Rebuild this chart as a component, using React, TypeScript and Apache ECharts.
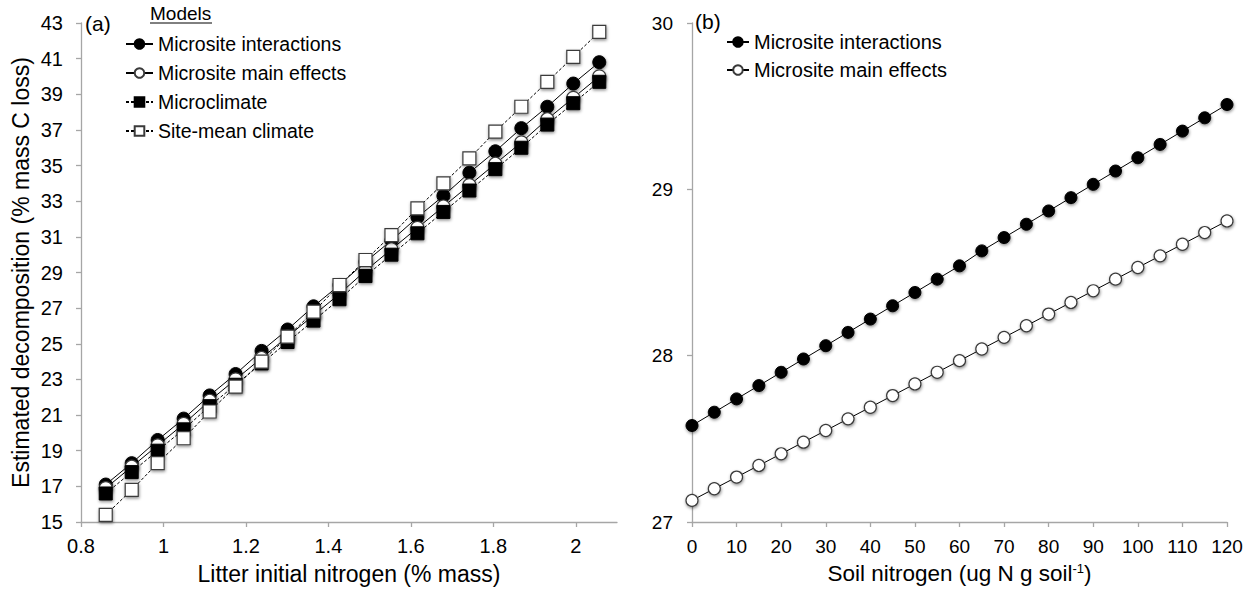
import React, { useEffect, useRef } from "react";
import * as echarts from "echarts";

const litterN = [0.86, 0.923, 0.986, 1.049, 1.112, 1.175, 1.238, 1.301, 1.364, 1.427, 1.49, 1.553, 1.616, 1.679, 1.742, 1.805, 1.868, 1.931, 1.994, 2.057];
const aInteractions = [17.1, 18.3, 19.6, 20.8, 22.1, 23.3, 24.6, 25.8, 27.1, 28.3, 29.6, 30.8, 32.1, 33.3, 34.6, 35.8, 37.1, 38.3, 39.6, 40.8];
const aMainEffects = [16.9, 18.1, 19.3, 20.5, 21.8, 23.0, 24.2, 25.4, 26.6, 27.8, 29.1, 30.3, 31.5, 32.7, 33.9, 35.1, 36.3, 37.6, 38.8, 40.0];
const aMicroclimate = [16.6, 17.8, 19.0, 20.2, 21.5, 22.7, 23.9, 25.1, 26.3, 27.5, 28.8, 30.0, 31.2, 32.4, 33.6, 34.8, 36.0, 37.3, 38.5, 39.7];
const aSiteMean = [15.4, 16.8, 18.3, 19.7, 21.2, 22.6, 24.0, 25.4, 26.8, 28.3, 29.7, 31.1, 32.6, 34.0, 35.4, 36.9, 38.3, 39.7, 41.1, 42.5];

const soilN = [0, 5, 10, 15, 20, 25, 30, 35, 40, 45, 50, 55, 60, 65, 70, 75, 80, 85, 90, 95, 100, 105, 110, 115, 120];
const bInteractions = [27.58, 27.66, 27.74, 27.82, 27.90, 27.98, 28.06, 28.14, 28.22, 28.30, 28.38, 28.46, 28.54, 28.63, 28.71, 28.79, 28.87, 28.95, 29.03, 29.11, 29.19, 29.27, 29.35, 29.43, 29.51];
const bMainEffects = [27.13, 27.20, 27.27, 27.34, 27.41, 27.48, 27.55, 27.62, 27.69, 27.76, 27.83, 27.90, 27.97, 28.04, 28.11, 28.18, 28.25, 28.32, 28.39, 28.46, 28.53, 28.60, 28.67, 28.74, 28.81];

const aXTicks = [0.8, 1, 1.2, 1.4, 1.6, 1.8, 2];
const aYTicks = [15, 17, 19, 21, 23, 25, 27, 29, 31, 33, 35, 37, 39, 41, 43];
const bXTicks = [0, 10, 20, 30, 40, 50, 60, 70, 80, 90, 100, 110, 120];
const bYTicks = [27, 28, 29, 30];

const FONT = "Liberation Sans";

export default function App() {
  const ref = useRef<HTMLDivElement>(null);
  useEffect(() => {
    document.body.style.margin = "0";
    const chart = echarts.init(ref.current!, null, { renderer: "svg" });
    const pair = (xs: number[], ys: number[]) => xs.map((x, i) => [x, ys[i]]);
    const shadow = { shadowBlur: 3, shadowColor: "rgba(0,0,0,0.45)", shadowOffsetY: 1.5, shadowOffsetX: 0.5 };
    const filled = { color: "#000", borderColor: "#000", borderWidth: 1, ...shadow };
    const open = { color: "#fff", borderColor: "#3a3a3a", borderWidth: 1.2, ...shadow };
    const axisLine = { show: true, lineStyle: { color: "#a6a6a6", width: 1.3 } };
    const tick = (vals: number[]) => ({ show: true, inside: false, length: 5, lineStyle: { color: "#a6a6a6", width: 1.3 }, customValues: vals });
    const label = (vals: number[], size: number) => ({ color: "#000", fontSize: size, fontFamily: FONT, customValues: vals, formatter: (v: number) => String(+(+v).toFixed(2)) });
    const nameStyle = { color: "#000", fontSize: 22.5, fontFamily: FONT };
    const mk = (name: string, idx: number, xs: number[], ys: number[], symbol: string, style: any, dashed: boolean, size: number) => ({
      name, type: "line", xAxisIndex: idx, yAxisIndex: idx, data: pair(xs, ys),
      symbol, symbolSize: size, showSymbol: true,
      lineStyle: { color: "#000", width: 1, type: dashed ? [3, 2] : "solid" },
      itemStyle: style,
    });
    chart.setOption({
      animation: false,
      textStyle: { fontFamily: FONT },
      grid: [
        { left: 81, top: 23, width: 536, height: 501 },
        { left: 692, top: 23, width: 535, height: 501 },
      ],
      xAxis: [
        { type: "value", gridIndex: 0, min: 0.8, max: 2.1, axisLine, axisTick: tick(aXTicks), axisLabel: { ...label(aXTicks, 20), margin: 14 }, splitLine: { show: false },
          name: "Litter initial nitrogen (% mass)", nameLocation: "middle", nameGap: 40, nameTextStyle: { ...nameStyle, fontSize: 23 } },
        { type: "value", gridIndex: 1, min: 0, max: 120, axisLine, axisTick: tick(bXTicks), axisLabel: { ...label(bXTicks, 19), margin: 15 }, splitLine: { show: false },
          name: "Soil nitrogen (ug N g soil{sup|-1})", nameLocation: "middle", nameGap: 40,
          nameTextStyle: { ...nameStyle, rich: { sup: { fontSize: 13, fontFamily: FONT, color: "#000", verticalAlign: "top", padding: [0, 0, 9, 0] } } } },
      ],
      yAxis: [
        { type: "value", gridIndex: 0, min: 15, max: 43, axisLine, axisTick: tick(aYTicks), axisLabel: { ...label(aYTicks, 20), margin: 18 }, splitLine: { show: false },
          name: "Estimated decomposition (% mass C loss)", nameLocation: "middle", nameGap: 49, nameTextStyle: { ...nameStyle, fontSize: 23 } },
        { type: "value", gridIndex: 1, min: 27, max: 30, axisLine, axisTick: tick(bYTicks), axisLabel: { ...label(bYTicks, 19), margin: 19 }, splitLine: { show: false } },
      ],
      legend: [
        { data: ["Microsite interactions", "Microsite main effects", "Microclimate", "Site-mean climate"], orient: "vertical", left: 120, top: 29,
          itemWidth: 27, itemHeight: 12, itemGap: 9, selectedMode: false, textStyle: { color: "#000", fontSize: 19.5, fontFamily: FONT } },
        { data: ["Microsite interactions", "Microsite main effects"], orient: "vertical", left: 721, top: 27,
          itemWidth: 22, itemHeight: 12, itemGap: 8, selectedMode: false, textStyle: { color: "#000", fontSize: 20, fontFamily: FONT } },
      ],
      graphic: [
        { type: "text", left: 85, top: 13, style: { text: "(a)", fontSize: 21, fontFamily: FONT, fill: "#000" } },
        { type: "text", left: 695, top: 11, style: { text: "(b)", fontSize: 21, fontFamily: FONT, fill: "#000" } },
        { type: "text", left: 150, top: 4, style: { text: "Models", fontSize: 19, fontFamily: FONT, fill: "#000" } },
        { type: "line", shape: { x1: 150, y1: 23, x2: 212, y2: 23 }, style: { stroke: "#000", lineWidth: 1 } },
      ],
      series: [
        mk("Microsite interactions", 0, litterN, aInteractions, "circle", filled, false, 13),
        mk("Microsite main effects", 0, litterN, aMainEffects, "circle", open, false, 13),
        mk("Microclimate", 0, litterN, aMicroclimate, "rect", filled, true, 13),
        mk("Site-mean climate", 0, litterN, aSiteMean, "rect", open, true, 13),
        mk("Microsite interactions", 1, soilN, bInteractions, "circle", filled, false, 12),
        mk("Microsite main effects", 1, soilN, bMainEffects, "circle", open, false, 12),
      ],
    });
    return () => chart.dispose();
  }, []);
  return <div ref={ref} style={{ width: 1255, height: 590 }} />;
}
